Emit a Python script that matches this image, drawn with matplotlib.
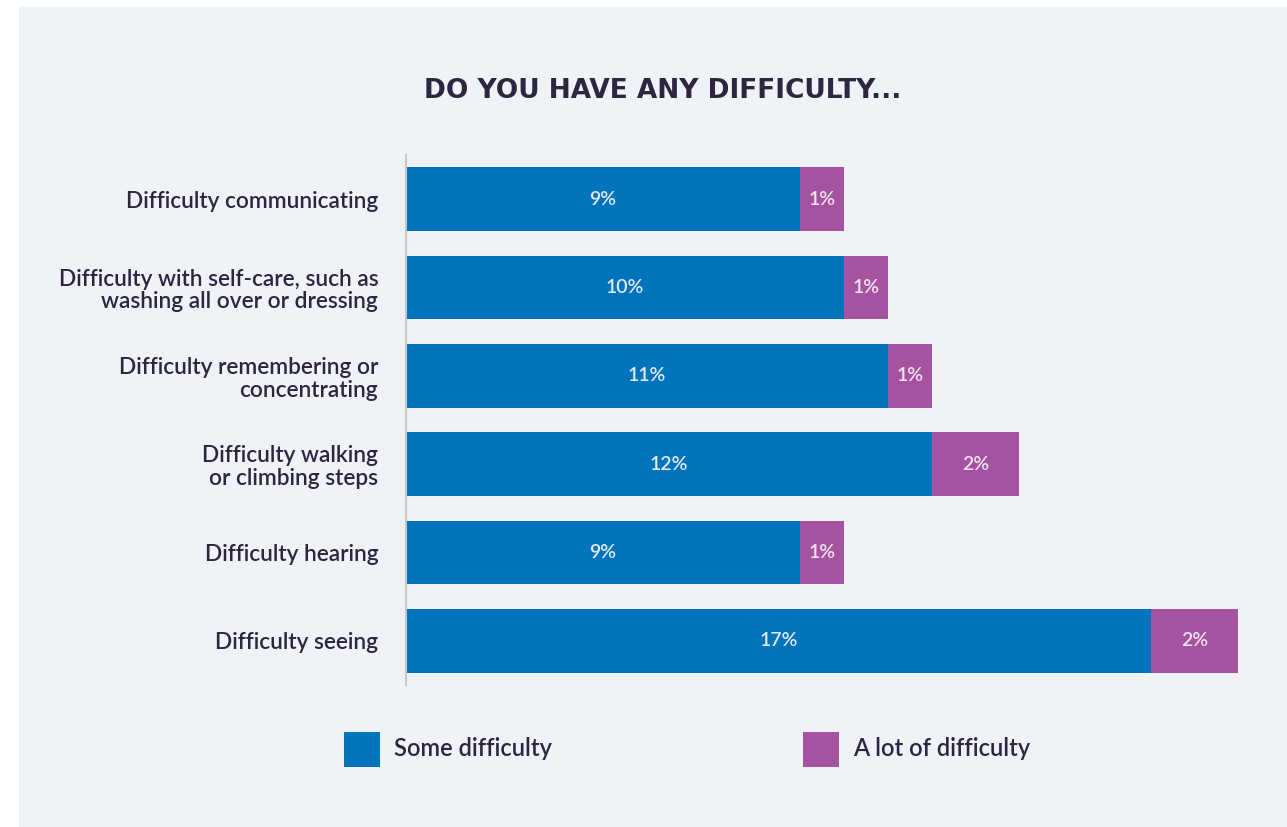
import matplotlib.pyplot as plt
from matplotlib.patches import Rectangle

categories = [
    "Difficulty communicating",
    "Difficulty with self-care, such as\nwashing all over or dressing",
    "Difficulty remembering or\nconcentrating",
    "Difficulty walking\nor climbing steps",
    "Difficulty hearing",
    "Difficulty seeing",
]
some = [9, 10, 11, 12, 9, 17]
a_lot = [1, 1, 1, 2, 1, 2]
series_names = ["Some difficulty", "A lot of difficulty"]

blue = "#0073bd"
purple = "#a553a1"
dark = "#2e2640"
W, H = 1287, 827

plt.rcParams['font.family'] = ['Lato', 'DejaVu Sans']

fig = plt.figure(figsize=(W / 100, H / 100), dpi=100, facecolor="white")
# light panel behind everything
fig.add_artist(Rectangle((19 / W, 0), 1 - 19 / W, 1 - 7 / H, transform=fig.transFigure,
                         facecolor="#eff3f8", edgecolor="none", zorder=0))

ax = fig.add_axes([406 / W, 1 - 685 / H, 876 / W, 530 / H])
ax.set_facecolor("none")

y = list(range(len(categories)))
ax.barh(y, some, height=0.72, color=blue)
ax.barh(y, a_lot, left=some, height=0.72, color=purple)

for i in y:
    ax.text(some[i] / 2, i, f"{some[i]}%", ha="center", va="center",
            color="#e3e9f2", fontsize=14, fontweight="semibold")
    ax.text(some[i] + a_lot[i] / 2, i, f"{a_lot[i]}%", ha="center", va="center",
            color="#f1e3f0", fontsize=14, fontweight="semibold")

ax.set_xlim(0, 20)
ax.set_ylim(5.5, -0.5)
ax.set_yticks(y)
ax.set_yticklabels(categories, fontsize=16.3, color=dark, linespacing=1.1,
                   fontweight="semibold")
ax.tick_params(axis="y", length=0, pad=20)
ax.set_xticks([])
for s in ["top", "right", "bottom"]:
    ax.spines[s].set_visible(False)
ax.spines["left"].set_color("#c8c8c8")
ax.spines["left"].set_linewidth(1.5)

fig.text(663 / W, 1 - 91 / H, "DO YOU HAVE ANY DIFFICULTY...", family="DejaVu Sans",
         ha="center", va="center", fontsize=19, fontweight="bold", color=dark)

# legend
for x0, name, col in [(344, series_names[0], blue), (803, series_names[1], purple)]:
    fig.add_artist(Rectangle((x0 / W, 1 - 767 / H), 36 / W, 35 / H,
                             transform=fig.transFigure, facecolor=col, edgecolor="none"))
    fig.text((x0 + 50) / W, 1 - 748 / H, name, ha="left", va="center",
             fontsize=17, fontweight="semibold", color=dark)

fig.savefig("out.png", dpi=100, facecolor=fig.get_facecolor())
